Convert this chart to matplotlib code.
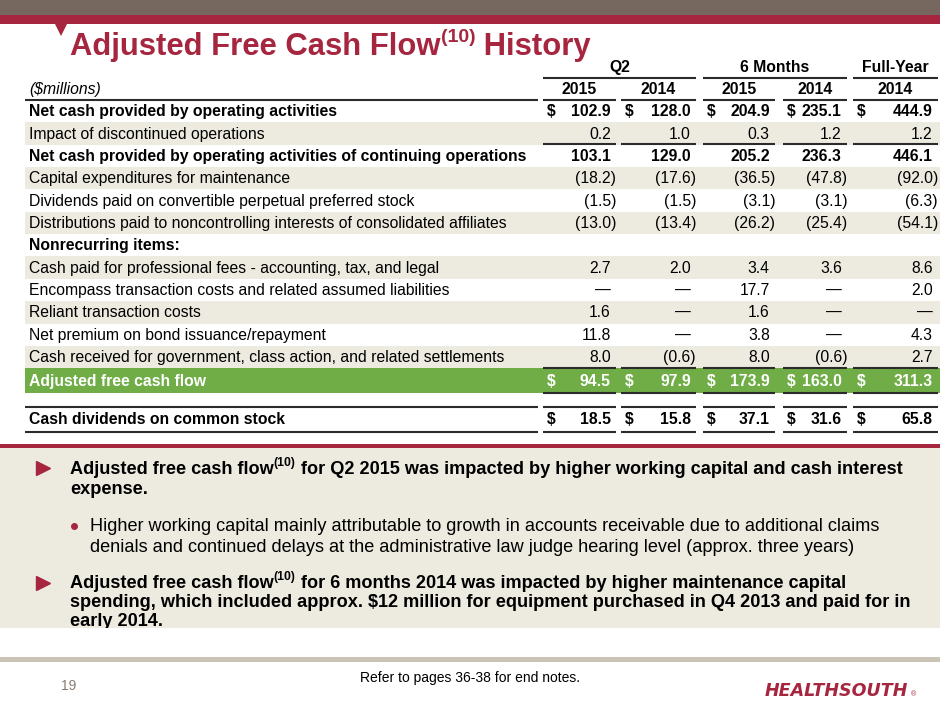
import matplotlib
matplotlib.use("Agg")
import matplotlib.pyplot as plt
from matplotlib.patches import Rectangle, Polygon

plt.rcParams['font.family'] = ['Liberation Sans', 'DejaVu Sans']

# Table data ($millions)
row_labels = [
    'Net cash provided by operating activities',
    'Impact of discontinued operations',
    'Net cash provided by operating activities of continuing operations',
    'Capital expenditures for maintenance',
    'Dividends paid on convertible perpetual preferred stock',
    'Distributions paid to noncontrolling interests of consolidated affiliates',
    'Nonrecurring items:',
    'Cash paid for professional fees - accounting, tax, and legal',
    'Encompass transaction costs and related assumed liabilities',
    'Reliant transaction costs',
    'Net premium on bond issuance/repayment',
    'Cash received for government, class action, and related settlements',
    'Adjusted free cash flow',
    'Cash dividends on common stock',
]
# None = blank cell, 0 = dash
q2_2015 = [102.9, 0.2, 103.1, -18.2, -1.5, -13.0, None, 2.7, 0, 1.6, 11.8, 8.0, 94.5, 18.5]
q2_2014 = [128.0, 1.0, 129.0, -17.6, -1.5, -13.4, None, 2.0, 0, 0, 0, -0.6, 97.9, 15.8]
m6_2015 = [204.9, 0.3, 205.2, -36.5, -3.1, -26.2, None, 3.4, 17.7, 1.6, 3.8, 8.0, 173.9, 37.1]
m6_2014 = [235.1, 1.2, 236.3, -47.8, -3.1, -25.4, None, 3.6, 0, 0, 0, -0.6, 163.0, 31.6]
fy_2014 = [444.9, 1.2, 446.1, -92.0, -6.3, -54.1, None, 8.6, 2.0, 0, 4.3, 2.7, 311.3, 65.8]
columns = [q2_2015, q2_2014, m6_2015, m6_2014, fy_2014]
col_years = ['2015', '2014', '2015', '2014', '2014']
groups = [('Q2', 0, 1), ('6 Months', 2, 3), ('Full-Year', 4, 4)]

bold_rows = {0, 2, 6, 12, 13}
shaded_rows = {1, 3, 5, 7, 9, 11}
dollar_rows = {0, 12, 13}

# colours
crimson = '#A6253F'
taupe = '#76675F'
beige = '#EDEAE0'
green = '#70AD47'
dark = '#2B2B2B'

fig = plt.figure(figsize=(9.4, 7.05), dpi=100)
ax = fig.add_axes([0, 0, 1, 1])
ax.set_xlim(0, 940)
ax.set_ylim(705, 0)
ax.axis('off')
renderer = fig.canvas.get_renderer()


def text_runs(x, y, runs, **kw):
    # runs: (text, fontsize, y offset)
    for s, size, dy in runs:
        t = ax.text(x, y + dy, s, fontsize=size, va='baseline', ha='left', **kw)
        x += t.get_window_extent(renderer=renderer).width


# header bands
ax.add_patch(Rectangle((0, 0), 940, 15, color=taupe, lw=0))
ax.add_patch(Rectangle((0, 15), 940, 9, color=crimson, lw=0))
ax.add_patch(Polygon([(55, 24), (67, 24), (61, 36)], closed=True, color=crimson, lw=0))

text_runs(70, 55, [('Adjusted Free Cash Flow', 22.3, 0), ('(10)', 14, -13), (' History', 22.3, 0)],
          color=crimson, fontweight='bold')

# table geometry
col_left = [543, 621, 703, 783, 853]
col_right = [616, 696, 775, 847, 938]
label_x0, label_x1 = 25, 538
pitch = 22.35
fs = 11.3

# group headers
for name, a, b in groups:
    ax.text((col_left[a] + col_right[b]) / 2, 72, name, fontsize=fs, fontweight='bold',
            ha='center', va='baseline', color='black')
    ax.plot([col_left[a], col_right[b]], [78, 78], color=dark, lw=1.5, solid_capstyle='butt')

ax.text(29, 94, '($millions)', fontsize=fs, style='italic', va='baseline', color='black')
for i, yr in enumerate(col_years):
    ax.text((col_left[i] + col_right[i]) / 2, 94, yr, fontsize=fs, fontweight='bold',
            ha='center', va='baseline', color='black')
    ax.plot([col_left[i], col_right[i]], [100, 100], color=dark, lw=1.5, solid_capstyle='butt')
ax.plot([label_x0, label_x1], [100, 100], color=dark, lw=1.5, solid_capstyle='butt')


def fmt(v):
    if v is None:
        return ''
    if v == 0:
        return '\u2014'
    if v < 0:
        return '(%.1f)' % -v
    return '%.1f' % v


for r, label in enumerate(row_labels):
    if r < 13:
        top = 100 + pitch * r
        h = pitch
    else:
        top = 407
        h = 25
    if r == 12:
        h = 25
    yc = top + h / 2
    if r in shaded_rows:
        ax.add_patch(Rectangle((25, top), 915, h, color=beige, lw=0, zorder=0))
    txt_color = 'black'
    if r == 12:
        ax.add_patch(Rectangle((25, top), 915, h, color=green, lw=0, zorder=0))
        txt_color = 'white'
    weight = 'bold' if r in bold_rows else 'normal'
    ax.text(29, yc + 5, label, fontsize=fs, fontweight=weight, va='baseline', color=txt_color)
    for c, vals in enumerate(columns):
        v = vals[r]
        s = fmt(v)
        xr = col_right[c] if (v is not None and v < 0) else col_right[c] - 5.2
        ax.text(xr, yc + 5, s, fontsize=fs, fontweight=weight, ha='right', va='baseline',
                color=txt_color)
        if r in dollar_rows:
            ax.text(col_left[c] + 4, yc + 5, '$', fontsize=fs, fontweight=weight,
                    ha='left', va='baseline', color=txt_color)

# rules within the table
for c in range(5):
    for yy in (144, 368, 393, 407, 432):
        ax.plot([col_left[c], col_right[c]], [yy, yy], color=dark, lw=1.5, solid_capstyle='butt')
for yy in (407, 432):
    ax.plot([label_x0, label_x1], [yy, yy], color=dark, lw=1.5, solid_capstyle='butt')

# commentary box
ax.add_patch(Rectangle((0, 444), 940, 4, color=crimson, lw=0))
ax.add_patch(Rectangle((0, 448), 940, 180, color=beige, lw=0, zorder=0))

bfs = 13.1
ax.plot([43], [468], marker='>', color=crimson, markersize=9.5, lw=0)
text_runs(70, 474, [('Adjusted free cash flow', bfs, 0), ('(10)', 8.8, -8),
                    (' for Q2 2015 was impacted by higher working capital and cash interest', bfs, 0)],
          color='black', fontweight='bold')
ax.text(70, 494, 'expense.', fontsize=bfs, fontweight='bold', va='baseline', color='black')

ax.plot([74], [526], marker='o', color=crimson, markersize=4, lw=0)
ax.text(90, 531, 'Higher working capital mainly attributable to growth in accounts receivable due to additional claims',
        fontsize=bfs, va='baseline', color='black')
ax.text(90, 552, 'denials and continued delays at the administrative law judge hearing level (approx. three years)',
        fontsize=bfs, va='baseline', color='black')

ax.plot([43], [583], marker='>', color=crimson, markersize=9.5, lw=0)
text_runs(70, 588, [('Adjusted free cash flow', bfs, 0), ('(10)', 8.8, -8),
                    (' for 6 months 2014 was impacted by higher maintenance capital', bfs, 0)],
          color='black', fontweight='bold')
ax.text(70, 607, 'spending, which included approx. $12 million for equipment purchased in Q4 2013 and paid for in',
        fontsize=bfs, fontweight='bold', va='baseline', color='black')
ax.text(70, 626, 'early 2014.', fontsize=bfs, fontweight='bold', va='baseline', color='black')
ax.add_patch(Rectangle((0, 628), 940, 28, color='white', lw=0, zorder=5))

# footer
ax.add_patch(Rectangle((0, 657), 940, 5, color='#CBC3B5', lw=0, zorder=6))
ax.text(61, 690, '19', fontsize=10, color='#8A7D70', va='baseline')
ax.text(470, 682, 'Refer to pages 36-38 for end notes.', fontsize=10, ha='center', va='baseline',
        color='black')
ax.text(765, 696, 'HEALTHSOUTH', fontsize=12.6, fontweight='bold', style='italic', color=crimson,
        va='baseline', family='DejaVu Sans')
ax.text(911, 696, '\u00ae', fontsize=5, color=crimson, va='baseline')

fig.savefig('out.png', dpi=100)
